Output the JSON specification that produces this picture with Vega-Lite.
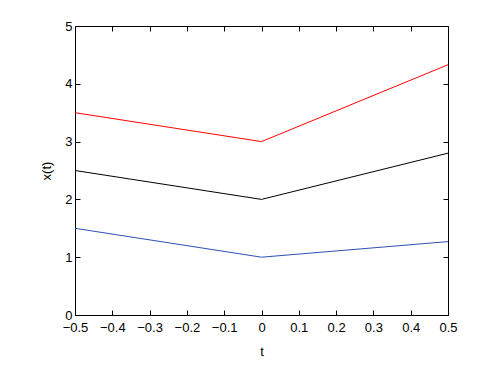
{
  "$schema": "https://vega.github.io/schema/vega-lite/v6.json",
  "autosize": "none",
  "width": 373,
  "height": 289,
  "padding": {"left": 75, "top": 26, "right": 43, "bottom": 54},
  "background": "white",
  "config": {
    "view": {"stroke": "#000000", "strokeWidth": 1},
    "axis": {
      "labelFont": "Liberation Sans",
      "titleFont": "Liberation Sans",
      "labelFontSize": 13,
      "titleFontSize": 13,
      "labelColor": "#000000",
      "titleColor": "#000000",
      "titleFontWeight": "normal",
      "domain": false,
      "grid": false,
      "labelFlush": false,
      "labelOverlap": false,
      "tickColor": "#000000",
      "tickSize": -5,
      "tickWidth": 1
    }
  },
  "data": {
    "values": [
      {"t": -0.5, "x": 3.5, "s": "red"},
      {"t": 0, "x": 3.0, "s": "red"},
      {"t": 0.5, "x": 4.33, "s": "red"},
      {"t": -0.5, "x": 2.5, "s": "black"},
      {"t": 0, "x": 2.0, "s": "black"},
      {"t": 0.5, "x": 2.8, "s": "black"},
      {"t": -0.5, "x": 1.5, "s": "blue"},
      {"t": 0, "x": 1.0, "s": "blue"},
      {"t": 0.5, "x": 1.27, "s": "blue"}
    ]
  },
  "layer": [
    {
      "mark": {"type": "line", "strokeWidth": 1, "clip": true},
      "encoding": {
        "x": {
          "field": "t", "type": "quantitative",
          "scale": {"domain": [-0.5, 0.5], "nice": false, "zero": false},
          "axis": {"orient": "bottom", "values": [-0.5, -0.4, -0.3, -0.2, -0.1, 0, 0.1, 0.2, 0.3, 0.4, 0.5], "format": ".1~f", "labelPadding": 11, "title": "t", "titlePadding": 11}
        },
        "y": {
          "field": "x", "type": "quantitative",
          "scale": {"domain": [0, 5], "nice": false},
          "axis": {"orient": "left", "values": [0, 1, 2, 3, 4, 5], "labelPadding": 8, "title": "x(t)", "titlePadding": 11}
        },
        "color": {
          "field": "s", "type": "nominal",
          "scale": {"domain": ["red", "black", "blue"], "range": ["#ff0000", "#000000", "#2f4fb5"]},
          "legend": null
        }
      }
    },
    {
      "mark": {"type": "line", "opacity": 0},
      "encoding": {
        "x": {
          "field": "t", "type": "quantitative",
          "axis": {"orient": "top", "values": [-0.5, -0.4, -0.3, -0.2, -0.1, 0, 0.1, 0.2, 0.3, 0.4, 0.5], "labels": false, "title": null}
        },
        "y": {
          "field": "x", "type": "quantitative",
          "axis": {"orient": "right", "values": [0, 1, 2, 3, 4, 5], "labels": false, "title": null}
        },
        "detail": {"field": "s"}
      }
    }
  ],
  "resolve": {"axis": {"x": "independent", "y": "independent"}}
}
